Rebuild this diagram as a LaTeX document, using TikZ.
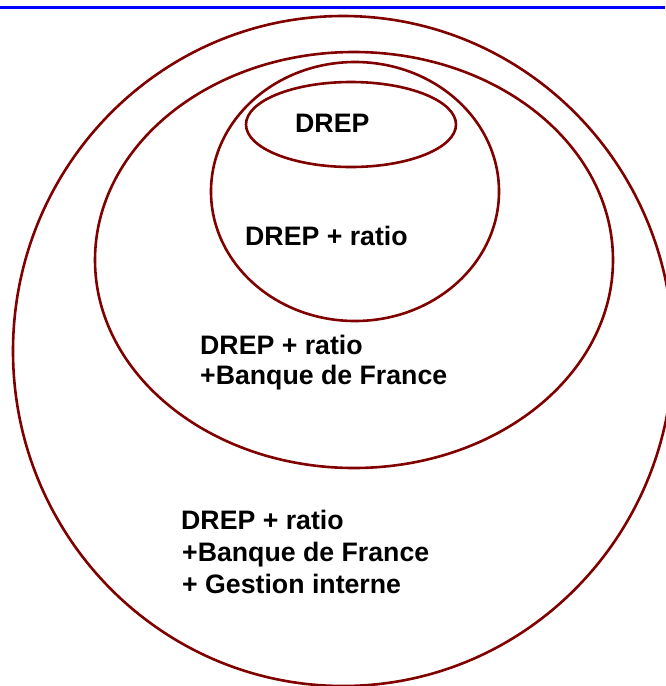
\documentclass[tikz,border=0pt]{standalone}
\usepackage{fontspec}
\setmainfont{Liberation Sans}
\definecolor{ringred}{RGB}{128,0,0}
\definecolor{topblue}{RGB}{0,0,255}
\begin{document}
\begin{tikzpicture}[x=1pt,y=-1pt,
  ring/.style={draw=ringred,line width=2.6pt},
  lbl/.style={anchor=base west,inner sep=0pt,font=\fontsize{26.7}{31}\selectfont\bfseries}]
\useasboundingbox (0,0) rectangle (665,686);
\coordinate (bl) at (0,7.5);
\coordinate (br) at (665,7.5);
\draw[topblue,line width=2.8pt] (bl) -- (br);
% ellipses
\draw[ring] (343,351) ellipse [x radius=330,y radius=335];
\draw[ring] (354,260) ellipse [x radius=259,y radius=208];
\draw[ring] (355,191.5) ellipse [x radius=144,y radius=129.5];
\draw[ring] (351,124.5) ellipse [x radius=105,y radius=42.5];
% labels
\node[lbl] (t1) at (295,132) {DREP};
\node[lbl] (t2) at (245,245) {DREP + ratio};
\node[lbl] (t3a) at (200,354) {DREP + ratio};
\node[lbl] (t3b) at (200,384) {+Banque de France};
\node[lbl] (t4a) at (181,529) {DREP + ratio};
\node[lbl] (t4b) at (182,561) {+Banque de France};
\node[lbl] (t4c) at (182,593) {+ Gestion interne};
\end{tikzpicture}
\end{document}
